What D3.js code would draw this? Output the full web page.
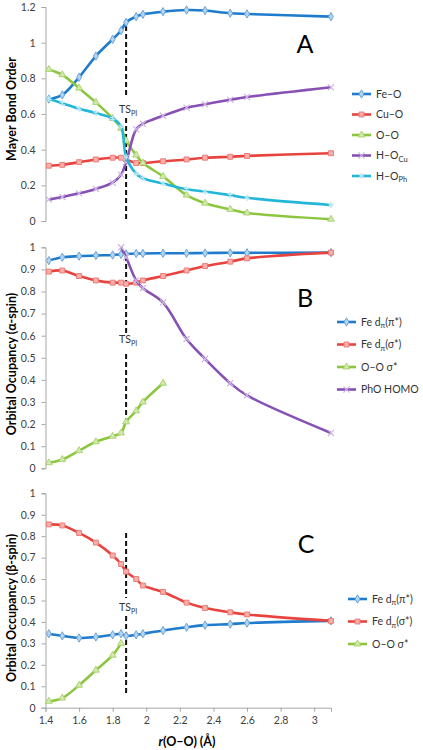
<!DOCTYPE html>
<html><head><meta charset="utf-8">
<script src="https://cdn.jsdelivr.net/npm/d3@7"></script>
<style>
html,body{margin:0;padding:0;background:#fff;}
svg{display:block;font-family:Lato,"Open Sans",sans-serif;}
</style></head>
<body>
<svg id="chart" width="423" height="750"></svg>
<script>
// ---- data ----
const rOO = [1.42, 1.5, 1.6, 1.7, 1.8, 1.85, 1.88, 1.94, 1.98, 2.1, 2.24, 2.35, 2.5, 2.6, 3.1];
const tsX = 1.88;
const xTicks = [1.4, 1.6, 1.8, 2, 2.2, 2.4, 2.6, 2.8, 3];

// Panel A: Mayer bond order
const feO  = [0.684, 0.707, 0.806, 0.925, 1.019, 1.068, 1.114, 1.146, 1.159, 1.174, 1.183, 1.18, 1.165, 1.161, 1.146];
const cuO  = [0.31, 0.315, 0.33, 0.345, 0.355, 0.355, 0.345, 0.325, 0.325, 0.335, 0.345, 0.355, 0.36, 0.365, 0.38];
const oO   = [0.85, 0.82, 0.745, 0.665, 0.575, 0.52, 0.45, 0.37, 0.325, 0.25, 0.145, 0.1, 0.065, 0.045, 0.01];
const hOCu = [0.12, 0.135, 0.155, 0.18, 0.215, 0.26, 0.33, 0.515, 0.545, 0.59, 0.635, 0.655, 0.68, 0.695, 0.75];
const hOPh = [0.685, 0.66, 0.63, 0.605, 0.575, 0.53, 0.36, 0.265, 0.24, 0.21, 0.178, 0.165, 0.145, 0.13, 0.09];
const yTicksA = [0, 0.2, 0.4, 0.6, 0.8, 1, 1.2];

// Panel B: alpha-spin occupancy
const feDpiA  = [0.94, 0.955, 0.96, 0.963, 0.965, 0.968, 0.97, 0.972, 0.972, 0.973, 0.973, 0.974, 0.975, 0.975, 0.976];
const feDsigA = [0.89, 0.895, 0.87, 0.85, 0.84, 0.84, 0.835, 0.84, 0.85, 0.87, 0.895, 0.915, 0.935, 0.95, 0.976];
const ooSigA  = [0.025, 0.04, 0.08, 0.12, 0.145, 0.16, 0.21, 0.26, 0.30, 0.385, null, null, null, null, null];
const phoHomo = [null, null, null, null, null, 1.0, 0.955, 0.85, 0.815, 0.75, 0.585, 0.495, 0.385, 0.33, 0.16];
const yTicksB = [0, 0.1, 0.2, 0.3, 0.4, 0.5, 0.6, 0.7, 0.8, 0.9, 1];

// Panel C: beta-spin occupancy
const feDpiB  = [0.345, 0.335, 0.325, 0.33, 0.34, 0.345, 0.335, 0.34, 0.345, 0.36, 0.375, 0.385, 0.39, 0.395, 0.405];
const feDsigB = [0.855, 0.85, 0.815, 0.77, 0.71, 0.67, 0.635, 0.6, 0.57, 0.54, 0.49, 0.465, 0.445, 0.435, 0.405];
const ooSigB  = [0.03, 0.045, 0.105, 0.175, 0.245, 0.30, null, null, null, null, null, null, null, null, null];
const yTicksC = yTicksB;

// ---- style ----
const C = {blue:"#1f7ccc", red:"#e8443f", green:"#8cc63e", purple:"#8750b5", cyan:"#22b6d8"};
const FILL = {blue:"#b5d4f0", red:"#f5b0ac", green:"#d3e9b0", purple:"#cdb6e2", cyan:"#b8e6f2"};
const EDGE = {blue:"#6aa6dc", red:"#ee7a76", green:"#a9d46e", purple:"#a98acb", cyan:"#6fcde5"};

const svg = d3.select("#chart");
const x = d3.scaleLinear().domain([1.4, 3.1]).range([45.5, 331]);
const fmt = d3.format("~g");

function marker(g, type, color, cx, cy) {
  const s = g.append("path").attr("transform", `translate(${cx},${cy})`);
  if (type === "diamond") s.attr("d", d3.symbol(d3.symbolDiamond, 20)()).attr("fill", FILL[color]).attr("stroke", EDGE[color]).attr("stroke-width", 1);
  else if (type === "square") s.attr("d", d3.symbol(d3.symbolSquare, 24)()).attr("fill", FILL[color]).attr("stroke", EDGE[color]).attr("stroke-width", 1);
  else if (type === "triangle") s.attr("d", d3.symbol(d3.symbolTriangle, 20)()).attr("fill", FILL[color]).attr("stroke", EDGE[color]).attr("stroke-width", 1);
  else if (type === "x") s.attr("d", d3.symbol(d3.symbolX, 26)()).attr("fill", "none").attr("stroke", FILL[color]).attr("stroke-width", 1.2);
  else if (type === "asterisk") s.attr("d", d3.symbol(d3.symbolAsterisk, 26)()).attr("fill", "none").attr("stroke", FILL[color]).attr("stroke-width", 1.2);
}

function panel(cfg) {
  const y = d3.scaleLinear().domain(cfg.yDomain).range(cfg.yRange);
  const g = svg.append("g");
  // y axis
  const ax = g.append("g").attr("transform", `translate(${x(1.4)},0)`)
    .call(d3.axisLeft(y).tickValues(cfg.yTicks).tickFormat(fmt).tickSize(4).tickPadding(6));
  ax.select(".domain").attr("stroke", "#a6a6a6");
  ax.selectAll(".tick line").attr("stroke", "#a6a6a6");
  ax.selectAll(".tick text").attr("fill", "#404040").style("font-size", "10.5px").style("font-family", "Lato, sans-serif");
  // y title
  g.append("text").attr("transform", `translate(${cfg.titleX},${cfg.titleY}) rotate(-90)`)
    .attr("text-anchor", "middle").attr("font-weight", "bold").attr("font-size", "12.5px").attr("fill", "#000")
    .text(cfg.title);
  // dashed TS line
  const [d0, d1, d2, d3v] = cfg.dash;
  g.append("line").attr("x1", x(tsX)).attr("x2", x(tsX)).attr("y1", d0).attr("y2", d1)
    .attr("stroke", "#111").attr("stroke-width", 2).attr("stroke-dasharray", "5,3");
  g.append("line").attr("x1", x(tsX)).attr("x2", x(tsX)).attr("y1", d2).attr("y2", d3v)
    .attr("stroke", "#111").attr("stroke-width", 2).attr("stroke-dasharray", "5,3");
  const ts = g.append("text").attr("x", x(tsX) - 7).attr("y", cfg.tsY).attr("font-size", "10.5px").attr("fill", "#333");
  ts.append("tspan").text("TS");
  ts.append("tspan").attr("dy", 2.5).attr("font-size", "7px").text("PI");
  // series
  const line = d3.line().defined(d => d[1] != null).x(d => x(d[0])).y(d => y(d[1])).curve(d3.curveCatmullRom.alpha(0.5));
  cfg.series.forEach(s => {
    const pts = rOO.map((r, i) => [r, s.values[i]]).filter(d => d[1] != null);
    g.append("path").datum(pts).attr("d", line).attr("fill", "none").attr("stroke", C[s.color]).attr("stroke-width", 2.6);
    pts.forEach(p => marker(g, s.marker, s.color, x(p[0]), y(p[1])));
  });
  // panel letter
  g.append("text").attr("x", cfg.letter[1]).attr("y", cfg.letter[2]).attr("text-anchor", "middle")
    .attr("font-size", "25px").attr("font-family", "Lato, sans-serif").attr("fill", "#000").text(cfg.letter[0]);
  // legend
  cfg.series.forEach((s, i) => {
    const ly = cfg.legend.y + i * cfg.legend.dy;
    const lx = cfg.legend.x;
    g.append("line").attr("x1", lx).attr("x2", lx + 19).attr("y1", ly).attr("y2", ly).attr("stroke", C[s.color]).attr("stroke-width", 2.6);
    marker(g, s.marker, s.color, lx + 9.5, ly);
    const t = g.append("text").attr("x", lx + 24).attr("y", ly + 3.8).attr("font-size", "10.5px").attr("fill", "#333");
    s.label.forEach(part => {
      const sp = t.append("tspan").text(part[0]);
      if (part[1] === "sub") sp.attr("font-size", "7.5px").attr("dy", 2.5);
      else if (part[1] === "after") sp.attr("dy", -2.5);
    });
  });
  return y;
}

// Panel A
panel({
  yDomain: [0, 1.2], yRange: [221, 7], yTicks: yTicksA,
  title: "Mayer Bond Order", titleX: 16, titleY: 109,
  dash: [26, 98, 118, 221], tsY: 113,
  letter: ["A", 305, 53],
  legend: {x: 352, y: 94, dy: 20.5},
  series: [
    {values: feO, color: "blue", marker: "diamond", label: [["Fe–O"]]},
    {values: cuO, color: "red", marker: "square", label: [["Cu–O"]]},
    {values: oO, color: "green", marker: "triangle", label: [["O–O"]]},
    {values: hOCu, color: "purple", marker: "x", label: [["H–O"], ["Cu", "sub"]]},
    {values: hOPh, color: "cyan", marker: "asterisk", label: [["H–O"], ["Ph", "sub"]]}
  ]
});

// Panel B
panel({
  yDomain: [0, 1], yRange: [468.3, 247.3], yTicks: yTicksB,
  title: "Orbital Ocupancy  (α-spin)", titleX: 16, titleY: 364,
  dash: [256, 333, 354, 421], tsY: 343,
  letter: ["B", 305, 307],
  legend: {x: 337, y: 322, dy: 22.5},
  series: [
    {values: feDpiA, color: "blue", marker: "diamond", label: [["Fe d"], ["π", "sub"], ["(π*)", "after"]]},
    {values: feDsigA, color: "red", marker: "square", label: [["Fe d"], ["π", "sub"], ["(σ*)", "after"]]},
    {values: ooSigA, color: "green", marker: "triangle", label: [["O–O σ*"]]},
    {values: phoHomo, color: "purple", marker: "x", label: [["PhO HOMO"]]}
  ]
});

// Panel C
const yC = panel({
  yDomain: [0, 1], yRange: [707.7, 493.3], yTicks: yTicksC,
  title: "Orbital Occupancy (β-spin)", titleX: 16, titleY: 608,
  dash: [533, 598, 616, 694], tsY: 611,
  letter: ["C", 306, 553],
  legend: {x: 348, y: 599, dy: 22.5},
  series: [
    {values: feDpiB, color: "blue", marker: "diamond", label: [["Fe d"], ["π", "sub"], ["(π*)", "after"]]},
    {values: feDsigB, color: "red", marker: "square", label: [["Fe d"], ["π", "sub"], ["(σ*)", "after"]]},
    {values: ooSigB, color: "green", marker: "triangle", label: [["O–O σ*"]]}
  ]
});

// x axis (bottom panel only)
const xa = svg.append("g").attr("transform", `translate(0,${yC(0)})`)
  .call(d3.axisBottom(x).tickValues(xTicks).tickFormat(fmt).tickSize(4).tickPadding(5));
xa.select(".domain").attr("stroke", "#a6a6a6");
xa.selectAll(".tick line").attr("stroke", "#a6a6a6");
xa.selectAll(".tick text").attr("fill", "#404040").style("font-size", "10.5px").style("font-family", "Lato, sans-serif");

const xt = svg.append("text").attr("x", 187).attr("y", 746).attr("text-anchor", "middle")
  .attr("font-weight", "bold").attr("font-size", "12.5px").attr("fill", "#000");
xt.append("tspan").attr("font-style", "italic").text("r");
xt.append("tspan").text("(O–O) (Å)");
</script>
</body></html>
